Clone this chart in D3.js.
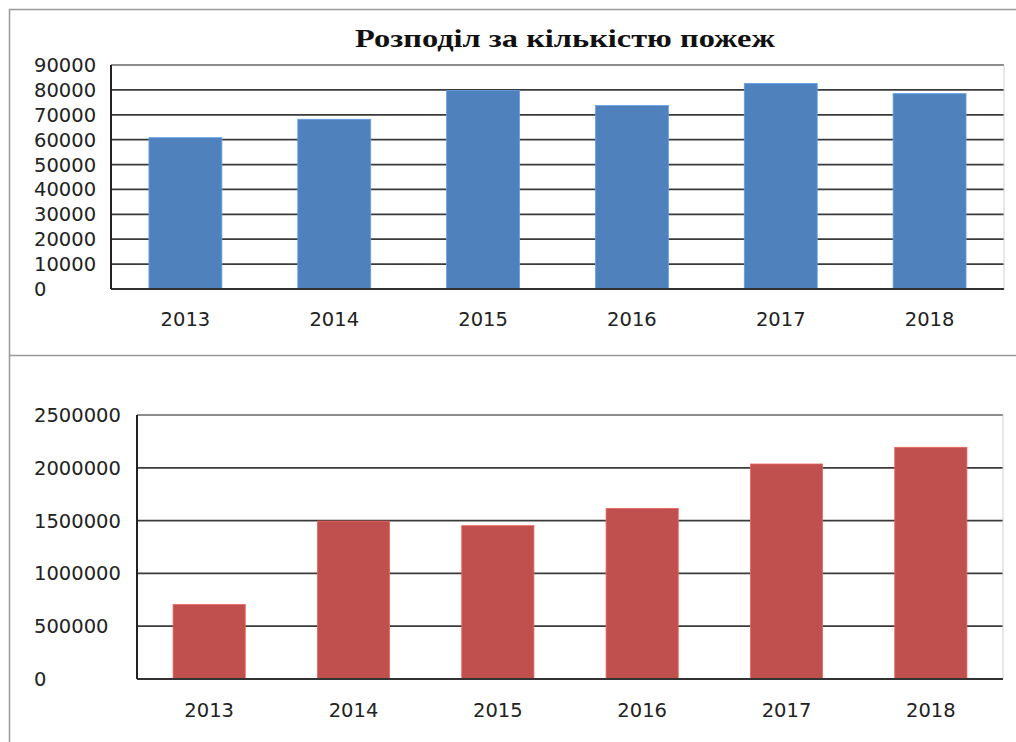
<!DOCTYPE html>
<html>
<head>
<meta charset="utf-8">
<script src="https://cdn.jsdelivr.net/npm/d3@7"></script>
<style>
  body { margin: 0; background: #fff; }
  svg { display: block; }
</style>
</head>
<body>
<svg id="chart" width="1016" height="742"></svg>
<script>
const years = ['2013', '2014', '2015', '2016', '2017', '2018']
const fires = [60800, 68200, 79700, 73700, 82600, 78500]
const losses = [705000, 1495000, 1452000, 1616000, 2036000, 2194000]
const firesTicks = [0, 10000, 20000, 30000, 40000, 50000, 60000, 70000, 80000, 90000]
const lossesTicks = [0, 500000, 1000000, 1500000, 2000000, 2500000]
const title = 'Розподіл за кількістю пожеж'

const svg = d3.select('#chart')

// frame of the two cells
svg.append('line').attr('x1', 9).attr('x2', 1016).attr('y1', 9.5).attr('y2', 9.5)
  .attr('stroke', '#999').attr('stroke-width', 1.5)
svg.append('line').attr('x1', 9.5).attr('x2', 9.5).attr('y1', 9).attr('y2', 742)
  .attr('stroke', '#999').attr('stroke-width', 1.5)
svg.append('line').attr('x1', 9).attr('x2', 1016).attr('y1', 355.5).attr('y2', 355.5)
  .attr('stroke', '#999').attr('stroke-width', 1.5)

svg.append('text')
  .attr('x', 565).attr('y', 47)
  .attr('text-anchor', 'middle')
  .attr('font-family', 'Liberation Serif')
  .attr('font-weight', 'bold')
  .attr('font-size', 26)
  .attr('textLength', 420)
  .attr('lengthAdjust', 'spacingAndGlyphs')
  .attr('fill', '#111')
  .text(title)

function drawChart(opts) {
  const { left, right, top, bottom, values, ticks, color, padding, labelY } = opts
  const g = svg.append('g')
  const x = d3.scaleBand().domain(years).range([left, right])
    .paddingInner(padding).paddingOuter(padding / 2)
  const y = d3.scaleLinear().domain([0, d3.max(ticks)]).range([bottom, top])

  // gridlines
  g.selectAll('.grid').data(ticks.filter(t => t > 0)).join('line')
    .attr('x1', left).attr('x2', right)
    .attr('y1', d => y(d)).attr('y2', d => y(d))
    .attr('stroke', (d, i, n) => i === n.length - 1 ? '#8c8c8c' : '#3a3a3a')
    .attr('stroke-width', 1.8)

  // right border of plot
  g.append('line').attr('x1', right).attr('x2', right).attr('y1', top).attr('y2', bottom)
    .attr('stroke', '#d0d0d0').attr('stroke-width', 1)

  g.selectAll('.bar').data(values).join('rect')
    .attr('x', (d, i) => x(years[i]))
    .attr('width', x.bandwidth())
    .attr('y', d => y(d))
    .attr('height', d => bottom - y(d))
    .attr('fill', color)
    .attr('stroke', d3.color(color).brighter(0.6))
    .attr('stroke-width', 0.8)

  // axes
  g.append('line').attr('x1', left).attr('x2', right).attr('y1', bottom).attr('y2', bottom)
    .attr('stroke', '#333').attr('stroke-width', 2)
  g.append('line').attr('x1', left).attr('x2', left).attr('y1', top).attr('y2', bottom)
    .attr('stroke', '#222').attr('stroke-width', 2)

  g.selectAll('.ylab').data(ticks).join('text')
    .attr('x', 34)
    .attr('y', d => y(d))
    .attr('dy', '0.36em')
    .attr('font-family', 'DejaVu Sans')
    .attr('font-size', 19.5)
    .attr('fill', '#222')
    .text(d => d)

  g.selectAll('.xlab').data(years).join('text')
    .attr('x', d => x(d) + x.bandwidth() / 2)
    .attr('y', labelY)
    .attr('text-anchor', 'middle')
    .attr('font-family', 'DejaVu Sans')
    .attr('font-size', 19.5)
    .attr('fill', '#222')
    .text(d => d)
}

drawChart({
  left: 111, right: 1004, top: 65, bottom: 289,
  values: fires, ticks: firesTicks, color: '#4F81BD', padding: 0.51, labelY: 326
})

drawChart({
  left: 137, right: 1003, top: 415, bottom: 679,
  values: losses, ticks: lossesTicks, color: '#C0504D', padding: 0.5, labelY: 717
})
</script>
</body>
</html>
